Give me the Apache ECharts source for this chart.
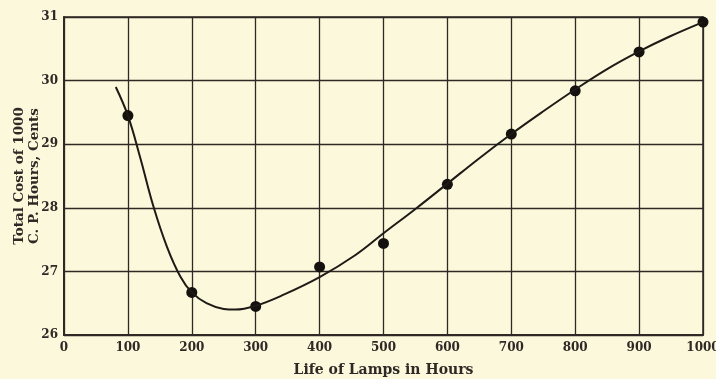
<!DOCTYPE html>
<html>
<head>
<meta charset="utf-8">
<script src="https://cdn.jsdelivr.net/npm/echarts@6/dist/echarts.min.js"></script>
<style>
html,body{margin:0;padding:0;background:#fbf8dc;}
#c{width:716px;height:379px;}
</style>
</head>
<body>
<div id="c"></div>
<script>
// Observed points
var pointX = [100, 200, 300, 400, 500, 600, 700, 800, 900, 1000];
var pointY = [29.45, 26.67, 26.45, 27.07, 27.44, 28.37, 29.16, 29.84, 30.45, 30.92];
// Fitted smooth curve
var curveX = [81, 100, 119, 140, 161, 182, 200, 223, 250, 268, 300, 343, 400, 455, 500, 551, 600, 650, 700, 749, 800, 848, 900, 947, 1000];
var curveY = [29.9, 29.45, 28.8, 28.02, 27.39, 26.92, 26.67, 26.5, 26.41, 26.4, 26.46, 26.63, 26.91, 27.25, 27.6, 27.99, 28.38, 28.78, 29.16, 29.51, 29.86, 30.17, 30.46, 30.69, 30.92];
var xTicks = [0, 100, 200, 300, 400, 500, 600, 700, 800, 900, 1000];
var yTicks = [26, 27, 28, 29, 30, 31];
var xTitle = 'Life of Lamps in Hours';
var yTitle = 'Total Cost of 1000\nC. P. Hours, Cents';

var ink = '#2e2924';
var font = 'DejaVu Serif';
var chart = echarts.init(document.getElementById('c'), null, {renderer: 'canvas'});
chart.setOption({
  backgroundColor: '#fbf8dc',
  animation: false,
  grid: {left: 64, right: 13, top: 17, bottom: 44, show: true, borderColor: ink, borderWidth: 1.5,
         containLabel: false, outerBoundsMode: 'none'},
  xAxis: {
    type: 'value', min: xTicks[0], max: xTicks[xTicks.length - 1], interval: 100,
    axisLine: {lineStyle: {color: ink, width: 2}},
    axisTick: {show: false},
    splitLine: {lineStyle: {color: ink, width: 1.3}},
    axisLabel: {color: ink, fontFamily: font, fontWeight: 'bold', fontSize: 12, margin: 7,
                formatter: function (v) { return String(v); }},
    name: xTitle, nameLocation: 'middle', nameGap: 28, nameMoveOverlap: false,
    nameTextStyle: {color: ink, fontFamily: font, fontWeight: 'bold', fontSize: 14}
  },
  yAxis: {
    type: 'value', min: yTicks[0], max: yTicks[yTicks.length - 1], interval: 1,
    axisLine: {show: true, lineStyle: {color: ink, width: 2}},
    axisTick: {show: false},
    splitLine: {lineStyle: {color: ink, width: 1.3}},
    axisLabel: {color: ink, fontFamily: font, fontWeight: 'bold', fontSize: 12, margin: 6,
                formatter: function (v) { return String(v); }},
    name: yTitle, nameLocation: 'middle', nameGap: 22, nameRotate: 90, nameMoveOverlap: false,
    nameTextStyle: {color: ink, fontFamily: font, fontWeight: 'bold', fontSize: 13.5, lineHeight: 15}
  },
  series: [
    {
      type: 'line', smooth: 0.4, showSymbol: false,
      data: curveX.map(function (x, i) { return [x, curveY[i]]; }),
      lineStyle: {color: '#1e1a16', width: 2}
    },
    {
      type: 'scatter', symbolSize: 11,
      data: pointX.map(function (x, i) { return [x, pointY[i]]; }),
      itemStyle: {color: '#14110e', opacity: 1}
    }
  ]
});
</script>
</body>
</html>
